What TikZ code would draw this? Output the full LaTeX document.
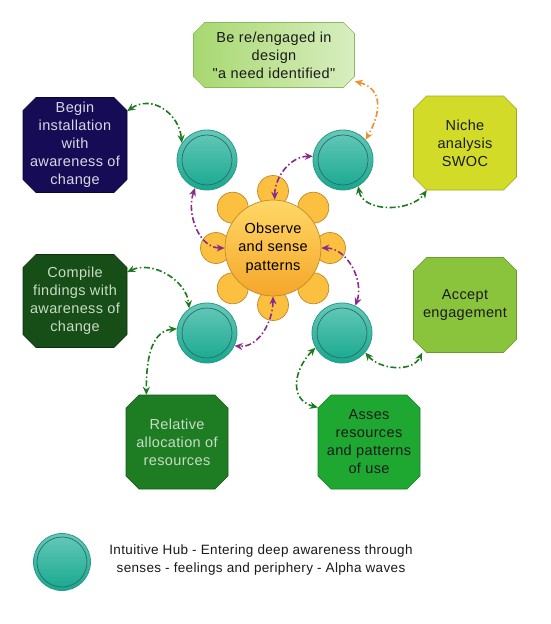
\documentclass[tikz,border=0pt]{standalone}
\usepackage{fontspec}
\setmainfont{Liberation Sans}[Ligatures=TeXOff, LetterSpace=2.5]
\usetikzlibrary{arrows.meta,calc}
\definecolor{cgreen}{HTML}{1E7A1E}
\definecolor{cpurple}{HTML}{8A2A8A}
\definecolor{corange}{HTML}{F0902A}
\definecolor{hubtop}{HTML}{66C9B9}
\definecolor{hubbot}{HTML}{17A88E}
\definecolor{hubborder}{HTML}{2B9A86}
\definecolor{hubinner}{HTML}{2E6A6E}
\definecolor{suntop}{HTML}{FFD866}
\definecolor{sunbot}{HTML}{F5A62A}
\definecolor{petalfill}{HTML}{FCC040}
\definecolor{sunborder}{HTML}{C08A2A}
\definecolor{engL}{HTML}{A8D870}
\definecolor{engR}{HTML}{D8EEC0}
\definecolor{engB}{HTML}{8CB860}
\definecolor{navyF}{HTML}{150C55}
\definecolor{navyB}{HTML}{0A0530}
\definecolor{nicheF}{HTML}{D2DC28}
\definecolor{nicheB}{HTML}{A0A820}
\definecolor{compF}{HTML}{174D17}
\definecolor{compB}{HTML}{0E300E}
\definecolor{accF}{HTML}{8AC43C}
\definecolor{accB}{HTML}{6A9A2C}
\definecolor{relF}{HTML}{1E7D22}
\definecolor{relB}{HTML}{155A18}
\definecolor{assF}{HTML}{1EA832}
\definecolor{assB}{HTML}{168024}
\definecolor{darktext}{HTML}{1A1A1A}
\definecolor{lighttext}{HTML}{D8D8E4}
\definecolor{lightgreentext}{HTML}{C8DCC8}
\tikzset{
  conn/.style={line width=1.6pt, dash pattern=on 6pt off 2.5pt on 1.5pt off 2.5pt,
    {Stealth[length=8pt,width=7pt]}-{Stealth[length=8pt,width=7pt]}},
  gconn/.style={conn, draw=cgreen},
  pconn/.style={conn, draw=cpurple},
  oconn/.style={conn, draw=corange},
  hub/.style={circle, minimum size=60pt, inner sep=0pt, draw=hubborder, line width=0.8pt,
    top color=hubtop, bottom color=hubbot,
    path picture={\draw[hubinner, line width=0.7pt] (path picture bounding box.center) circle[radius=25pt];}},
  petal/.style={circle, minimum size=31pt, inner sep=0pt, draw=sunborder, line width=0.7pt, fill=petalfill},
  sun/.style={circle, minimum size=96pt, inner sep=0pt, draw=sunborder, line width=0.7pt,
    top color=suntop, bottom color=sunbot, align=center, text=black, font=\fontsize{14.5}{18.5}\selectfont},
  boxtext/.style={align=center, inner sep=0pt, font=\fontsize{14.5}{18}\selectfont},
}
% name, cx, cy, w, h, chamfer, shape style, text colour, text
\newcommand\octbox[9]{%
  \path[#7] ({#2-#4/2+#6},{#3+#5/2}) -- ({#2+#4/2-#6},{#3+#5/2}) -- ({#2+#4/2},{#3+#5/2-#6})
    -- ({#2+#4/2},{#3-#5/2+#6}) -- ({#2+#4/2-#6},{#3-#5/2}) -- ({#2-#4/2+#6},{#3-#5/2})
    -- ({#2-#4/2},{#3-#5/2+#6}) -- ({#2-#4/2},{#3+#5/2-#6}) -- cycle;
  \node[boxtext, text=#8, minimum width=#4pt, minimum height=#5pt] (#1) at (#2,#3) {#9};
}
\begin{document}
\begin{tikzpicture}[x=1pt,y=1pt]
\useasboundingbox[fill=white] (0,0) rectangle (550,-624);

% boxes
\octbox{engage}{274}{-55}{161}{65}{11}{draw=engB, left color=engL, right color=engR, line width=0.6pt}{darktext}{Be re/engaged in\\design\\"a need identified"}
\octbox{begin}{75}{-145}{104}{95}{13}{draw=navyB, fill=navyF, line width=0.6pt}{lighttext}{Begin\\installation\\with\\awareness of\\change}
\octbox{niche}{465}{-143}{103}{94}{13}{draw=nicheB, fill=nicheF, line width=0.6pt}{darktext}{Niche\\analysis\\SWOC}
\octbox{compile}{75}{-301}{104}{93}{13}{draw=compB, fill=compF, line width=0.6pt}{lightgreentext}{Compile\\findings with\\awareness of\\change}
\octbox{accept}{465}{-305}{103}{95}{13}{draw=accB, fill=accF, line width=0.6pt}{darktext}{Accept\\engagement}
\octbox{relative}{177}{-442}{102}{94}{13}{draw=relB, fill=relF, line width=0.6pt}{lightgreentext}{Relative\\allocation of\\resources}
\octbox{asses}{369}{-442}{102}{94}{13}{draw=assB, fill=assF, line width=0.6pt}{darktext}{Asses\\resources\\and patterns\\of use}

% sun
\foreach \a [count=\i] in {0,45,...,315}
  \node[petal] (petal\i) at ($(273,-248)+(\a:57)$) {};
\node[sun] (sun) at (273,-248) {Observe\\and sense\\patterns};

% hubs
\node[hub] (hubTL) at (207,-160) {};
\node[hub] (hubTR) at (343,-160) {};
\node[hub] (hubBL) at (207,-333) {};
\node[hub] (hubBR) at (342,-333) {};

% connectors
\draw[gconn] (begin.33) to[out=35, in=95, looseness=1.2] (hubTL.146);
\draw[oconn] (engage.-18) to[out=-15, in=60, looseness=1.3] (hubTR.42);
\draw[gconn] (hubTR.-60) to[out=-80, in=-125] (niche.231);
\draw[pconn] (hubTL.247) to[out=250, in=180] (sun.180);
\draw[pconn] (sun.88) to[out=90, in=180] (hubTR.173);
\draw[pconn] (sun.0) to[out=0, in=70] (hubBR.64);
\draw[pconn] (sun.-90) to[out=-90, in=-5] (hubBL.-25);
\draw[gconn] (compile.29) to[out=25, in=95] (hubBL.126);
\draw[gconn] (hubBL.172) to[out=185, in=90] (relative.123);
\draw[gconn] (hubBR.209) to[out=225, in=165, looseness=1.3] (asses.146);
\draw[gconn] (hubBR.-40) to[out=-50, in=-115] (accept.228);

% legend
\node[hub, minimum size=57pt] (legendhub) at (62,-562) {};
\node[align=center, text=darktext, font=\fontsize{13.5}{18}\selectfont] (legendtext) at (261,-560)
  {Intuitive Hub - Entering deep awareness through\\senses - feelings and periphery - Alpha waves};
\end{tikzpicture}
\end{document}
